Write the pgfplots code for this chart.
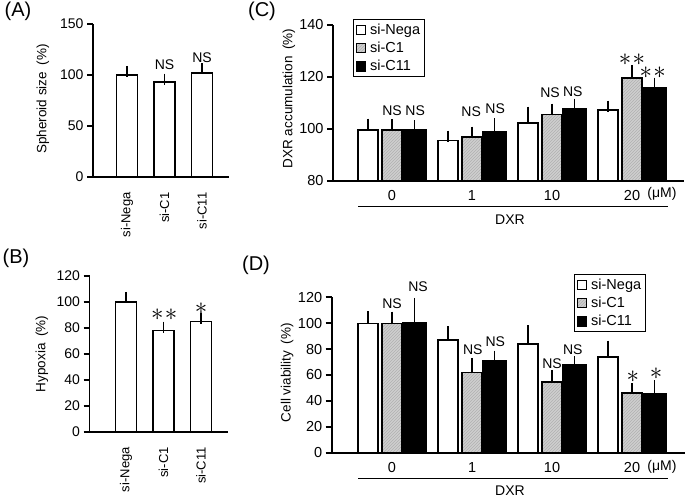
\documentclass[border=0pt]{standalone}
\usepackage{fontspec}
\setmainfont{Liberation Sans}
\usepackage{pgfplots}
\pgfplotsset{compat=1.18}
\usetikzlibrary{patterns}
\newcommand\fs[1]{\fontsize{#1}{#1}\selectfont}
\tikzset{lbl/.style={font=\fs{14}}, star/.style={font=\fs{23}}}
\pgfplotsset{
  panel/.style={
    scale only axis, anchor=south west,
    axis x line*=bottom, axis y line*=left,
    axis line style={line width=1.8pt,-},
    tick align=outside, major tick length=6pt,
    ytick style={line width=1.8pt,black},
    xtick style={draw=none},
    ybar, clip mode=individual,
    tick label style={font=\fs{14}},
    /pgf/number format/assume math mode=true,
    label style={font=\fs{13.5}},
    legend image code/.code={\draw[#1,line width=0.8pt] (0pt,-4.7pt) rectangle (9.4pt,4.7pt);},
    legend cell align=left,
  },
  leg/.style={legend style={draw=black, line width=0.8pt, font=\fs{14.5},
    inner sep=2.5pt, row sep=2.2pt, column sep=2pt}},
  ebar/.style={error bars/y dir=plus, error bars/y explicit,
    error bars/error bar style={line width=1.8pt,black},
    error bars/error mark options={line width=1.8pt,black,mark size=5.5pt}},
  wbar/.style={fill=white,draw=black,line width=1.8pt},
  gbar/.style={fill=gray!38,draw=black,line width=1.8pt,postaction={pattern=north east lines,pattern color=gray!62}},
  kbar/.style={fill=black,draw=black,line width=1.8pt},
}
\begin{document}
\begin{tikzpicture}
% ---------- (A)
\begin{axis}[panel, at={(93pt,320pt)}, width=136pt, height=153pt,
  xmin=-0.9067, xmax=2.72, ymin=0, ymax=150, ytick={0,50,100,150},
  xtick={0,1,2}, xticklabels={si-Nega,si-C1,si-C11},
  xticklabel style={rotate=90,anchor=east,font=\fs{13}}, xticklabel shift=6pt,
  ylabel={Spheroid size\enspace(\%)},
  ylabel style={at={(axis description cs:-0.3676,0.51)},anchor=center,rotate=0}]
\addplot[wbar, bar width=21pt, bar shift=0pt, ebar] table[x=x,y=y,y error=e]{
x y e
0 100 3.5
1 93 3
2 102 4
};
\node[lbl] at (axis cs:1,110.2) {NS};
\node[lbl] at (axis cs:2,116.6) {NS};
\end{axis}
% ---------- (B)
\begin{axis}[panel, at={(89.5pt,65.3pt)}, width=138.5pt, height=155.7pt,
  xmin=-0.973, xmax=2.72, ymin=0, ymax=120, ytick={0,20,...,120},
  xtick={0,1,2}, xticklabels={si-Nega,si-C1,si-C11},
  xticklabel style={rotate=90,anchor=east,font=\fs{13}}, xticklabel shift=6pt,
  ylabel={Hypoxia\enspace(\%)},
  ylabel style={at={(axis description cs:-0.343,0.5)},anchor=center,rotate=0}]
\addplot[wbar, bar width=21pt, bar shift=0pt, ebar] table[x=x,y=y,y error=e]{
x y e
0 100 3.5
1 78 2.5
2 85 2.5
};
\node[star] at (axis cs:1.02,90) {$\ast\mkern1mu\ast$};
\node[star] at (axis cs:2,95.1) {$\ast$};
\end{axis}
% ---------- (C)
\begin{axis}[panel, leg, at={(333pt,316pt)}, width=351pt, height=156pt,
  xmin=-0.7375, xmax=3.65, ymin=80, ymax=140, ytick={80,100,120,140},
  tick label style={font=\fs{14.5}},
  xtick={0,1,2,3}, xticklabels={0,1,10,20},
  ylabel={DXR accumulation\enspace(\%)},
  ylabel style={at={(axis description cs:-0.1254,0.529)},anchor=center,rotate=0},
  legend style={at={(0.057,1.038)}, anchor=north west}]
\addplot[wbar, bar width=20pt, bar shift=-24pt, ebar] table[x=x,y=y,y error=e]{
x y e
0 99.6 2.3
1 95.6 1.7
2 102.2 4.3
3 107.2 1.6
};
\addplot[gbar, bar width=20pt, bar shift=0pt, ebar] table[x=x,y=y,y error=e]{
x y e
0 99.6 2
1 96.8 2
2 105.6 2
3 119.5 3
};
\addplot[kbar, bar width=23pt, bar shift=22.5pt, ebar] table[x=x,y=y,y error=e]{
x y e
0 99.8 1.5
1 99 3
2 107.9 1.7
3 115.9 1.7
};
\legend{si-Nega,si-C1,si-C11}
\node[lbl] at (axis cs:0,106.9) {NS};
\node[lbl] at (axis cs:0.29,106.9) {NS};
\node[lbl] at (axis cs:0.99,106.5) {NS};
\node[lbl] at (axis cs:1.29,107.7) {NS};
\node[lbl] at (axis cs:1.975,113.8) {NS};
\node[lbl] at (axis cs:2.26,114.2) {NS};
\node[star] at (axis cs:3,126.5) {$\ast\mkern1mu\ast$};
\node[star] at (axis cs:3.26,121.5) {$\ast\mkern1mu\ast$};
\end{axis}
% ---------- (D)
\begin{axis}[panel, leg, at={(331.7pt,44.3pt)}, width=353.3pt, height=155.4pt,
  xmin=-0.754, xmax=3.662, ymin=0, ymax=120, ytick={0,20,...,120},
  tick label style={font=\fs{14.5}},
  xtick={0,1,2,3}, xticklabels={0,1,10,20},
  ylabel={Cell viability\enspace(\%)},
  ylabel style={at={(axis description cs:-0.1265,0.516)},anchor=center,rotate=0},
  legend style={at={(0.686,1.15)}, anchor=north west}]
\addplot[wbar, bar width=20pt, bar shift=-24pt, ebar] table[x=x,y=y,y error=e]{
x y e
0 99.7 5.2
1 87 6.5
2 83.7 10.3
3 73.7 8.5
};
\addplot[gbar, bar width=20pt, bar shift=0pt, ebar] table[x=x,y=y,y error=e]{
x y e
0 99.7 4.9
1 62 7
2 54.9 4.9
3 46.4 2.8
};
\addplot[kbar, bar width=23pt, bar shift=22.5pt, ebar] table[x=x,y=y,y error=e]{
x y e
0 100 15.4
1 71 3.6
2 67.5 2.8
3 45.6 6
};
\legend{si-Nega,si-C1,si-C11}
\node[lbl] at (axis cs:0,115.4) {NS};
\node[lbl] at (axis cs:0.325,128.2) {NS};
\node[lbl] at (axis cs:1.01,79.8) {NS};
\node[lbl] at (axis cs:1.29,85.7) {NS};
\node[lbl] at (axis cs:2.0,69) {NS};
\node[lbl] at (axis cs:2.26,79.8) {NS};
\node[star] at (axis cs:3.01,58.7) {$\ast$};
\node[star] at (axis cs:3.3,61.3) {$\ast$};
\end{axis}
% ---------- annotations
\node[font=\fs{20}] at (18pt,486pt) {(A)};
\node[font=\fs{20}] at (16pt,239pt) {(B)};
\node[font=\fs{20}] at (262pt,486pt) {(C)};
\node[font=\fs{20}] at (256pt,232pt) {(D)};
\node[font=\fs{14}] at (662pt,303pt) {(μM)};
\node[font=\fs{14}] at (662pt,30.3pt) {(μM)};
\draw[line width=0.7pt] (358pt,290.3pt) -- (668pt,290.3pt);
\draw[line width=0.7pt] (358pt,19pt) -- (668pt,19pt);
\node[font=\fs{14}] at (510pt,277pt) {DXR};
\node[font=\fs{14}] at (510pt,6.5pt) {DXR};
\pgfresetboundingbox
\path[use as bounding box] (0,0) rectangle (685pt,497pt);
\end{tikzpicture}
\end{document}
